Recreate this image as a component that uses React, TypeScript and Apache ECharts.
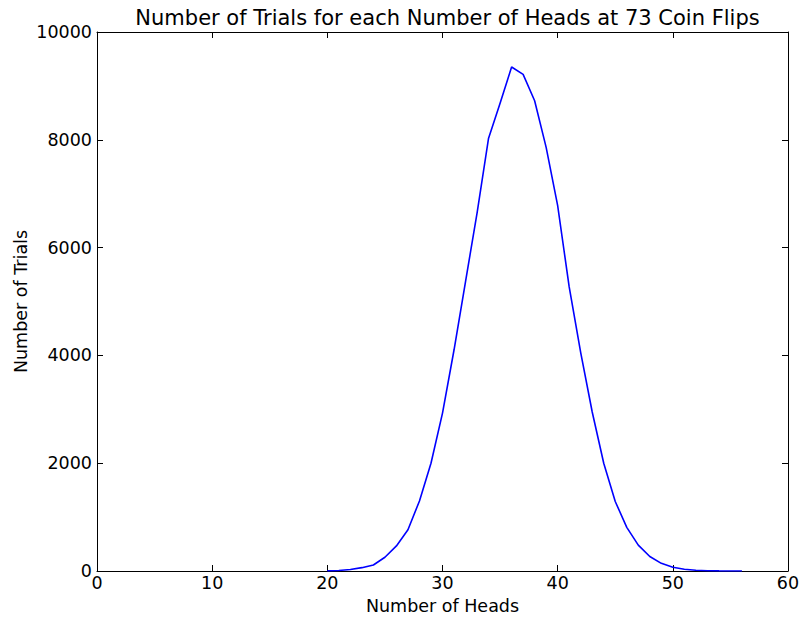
import React, { useEffect, useRef } from "react";
import * as echarts from "echarts";

const heads = [20, 21, 22, 23, 24, 25, 26, 27, 28, 29, 30, 31, 32, 33, 34, 35, 36, 37, 38, 39, 40, 41, 42, 43, 44, 45, 46, 47, 48, 49, 50, 51, 52, 53, 54, 55, 56];
const trials = [3, 10, 28, 62, 112, 255, 465, 765, 1300, 2000, 2930, 4100, 5370, 6640, 8030, 8680, 9350, 9215, 8725, 7860, 6780, 5270, 4050, 2950, 2000, 1290, 810, 480, 270, 142, 68, 32, 14, 6, 2, 1, 0];

const titleText = "Number of Trials for each Number of Heads at 73 Coin Flips";
const xName = "Number of Heads";
const yName = "Number of Trials";

const FONT = "DejaVu Sans";

export default function App() {
  const ref = useRef<HTMLDivElement>(null);
  useEffect(() => {
    if (!ref.current) return;
    const chart = echarts.init(ref.current, null, { renderer: "svg" });
    const axisLine = { show: true, onZero: false, lineStyle: { color: "#000", width: 1 } };
    const tick = { show: true, inside: true, length: 6, lineStyle: { color: "#000", width: 1 } };
    const label = { color: "#000", fontFamily: FONT, fontSize: 17.5, formatter: (v: number) => String(v) };
    chart.setOption({
      animation: false,
      backgroundColor: "#fff",
      title: {
        text: titleText,
        left: 442.5,
        top: 2,
        textAlign: "center",
        textStyle: { color: "#000", fontFamily: FONT, fontSize: 21, fontWeight: "normal" },
      },
      grid: { left: 97, top: 32, width: 691, height: 539, containLabel: false, outerBoundsMode: "none" },
      xAxis: [
        {
          type: "value",
          min: 0,
          max: 60,
          interval: 10,
          position: "bottom",
          axisLine,
          axisTick: tick,
          splitLine: { show: false },
          axisLabel: { ...label, margin: 3 },
          name: xName,
          nameLocation: "middle",
          nameGap: 26,
          nameTextStyle: { color: "#000", fontFamily: FONT, fontSize: 17.5 },
        },
        {
          type: "value",
          min: 0,
          max: 60,
          interval: 10,
          position: "top",
          axisLine,
          axisTick: tick,
          splitLine: { show: false },
          axisLabel: { show: false },
        },
      ],
      yAxis: [
        {
          type: "value",
          min: 0,
          max: 10000,
          interval: 2000,
          position: "left",
          axisLine,
          axisTick: tick,
          splitLine: { show: false },
          axisLabel: { ...label, margin: 5 },
          name: yName,
          nameLocation: "middle",
          nameGap: 67,
          nameMoveOverlap: false,
          nameTextStyle: { color: "#000", fontFamily: FONT, fontSize: 17.5 },
        },
        {
          type: "value",
          min: 0,
          max: 10000,
          interval: 2000,
          position: "right",
          axisLine,
          axisTick: tick,
          splitLine: { show: false },
          axisLabel: { show: false },
        },
      ],
      series: [
        {
          type: "line",
          data: heads.map((h, i) => [h, trials[i]]),
          showSymbol: false,
          symbol: "none",
          lineStyle: { color: "#0000ff", width: 1.6 },
          itemStyle: { color: "#0000ff" },
          z: 1,
        },
      ],
    });
    return () => chart.dispose();
  }, []);
  return (
    <div
      ref={ref}
      style={{ position: "fixed", left: 0, top: 0, width: 804, height: 619, background: "#fff" }}
    />
  );
}
